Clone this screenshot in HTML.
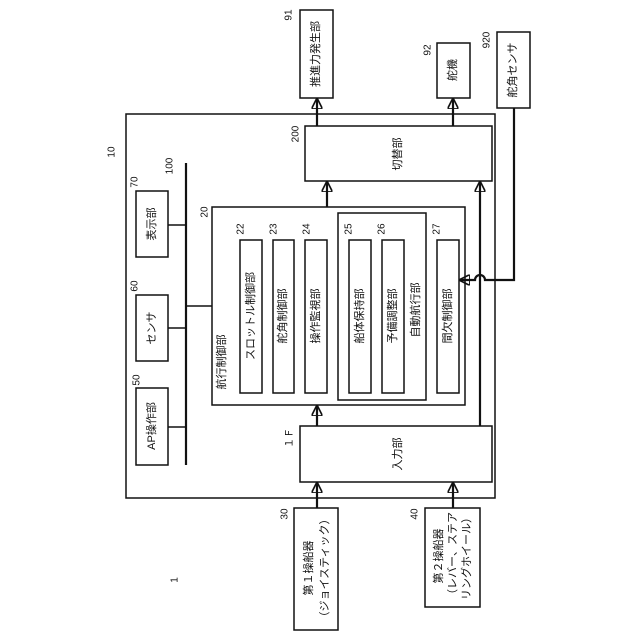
<!DOCTYPE html>
<html><head><meta charset="utf-8"><style>
html,body{margin:0;padding:0;background:#fff}
svg{display:block}
text{font-family:"Liberation Sans","Noto Sans CJK JP",sans-serif;fill:#111}
.t{font-size:11px;text-anchor:middle;dominant-baseline:central}
.n{font-size:10px;text-anchor:middle;dominant-baseline:central}
rect{fill:none;stroke:#111;stroke-width:1.5}
line,path{stroke:#111;stroke-width:1.5;fill:none}
.b{stroke-width:2.2}
</style></head><body>
<svg width="640" height="640" viewBox="0 0 640 640">
<defs><marker id="a" viewBox="0 0 10 10" refX="9" refY="5" markerWidth="5" markerHeight="5" orient="auto"><path d="M0,0L10,5L0,10z" fill="#111" stroke="none"/></marker></defs>
<!-- outer -->
<rect x="126" y="114" width="369" height="384"/>
<!-- 200 -->
<rect x="305" y="126" width="187" height="55"/>
<text class="t" transform="translate(398,154) rotate(-90)">切替部</text>
<!-- bus -->
<line class="b" x1="186" y1="163" x2="186" y2="465"/>
<line x1="168" y1="225" x2="186" y2="225"/>
<line x1="168" y1="328" x2="186" y2="328"/>
<line x1="168" y1="427" x2="186" y2="427"/>
<line x1="186" y1="306" x2="212" y2="306"/>
<rect x="136" y="191" width="32" height="66"/>
<text class="t" transform="translate(152,224) rotate(-90)">表示部</text>
<rect x="136" y="295" width="32" height="66"/>
<text class="t" transform="translate(152,328) rotate(-90)">センサ</text>
<rect x="136" y="388" width="32" height="77"/>
<text class="t" transform="translate(152,426) rotate(-90)">AP操作部</text>
<!-- 20 -->
<rect x="212" y="207" width="253" height="198"/>
<text class="t" transform="translate(222,362) rotate(-90)">航行制御部</text>
<rect x="240" y="240" width="22" height="153"/>
<text class="t" transform="translate(251,316) rotate(-90)">スロットル制御部</text>
<rect x="273" y="240" width="21" height="153"/>
<text class="t" transform="translate(283,316) rotate(-90)">舵角制御部</text>
<rect x="305" y="240" width="22" height="153"/>
<text class="t" transform="translate(316,316) rotate(-90)">操作監視部</text>
<rect x="338" y="213" width="88" height="187"/>
<rect x="349" y="240" width="22" height="153"/>
<text class="t" transform="translate(360,316) rotate(-90)">船体保持部</text>
<rect x="382" y="240" width="22" height="153"/>
<text class="t" transform="translate(393,316) rotate(-90)">予備調整部</text>
<text class="t" transform="translate(416,310) rotate(-90)">自動航行部</text>
<rect x="437" y="240" width="22" height="153"/>
<text class="t" transform="translate(448,316) rotate(-90)">間欠制御部</text>
<!-- input -->
<rect x="300" y="426" width="192" height="56"/>
<text class="t" transform="translate(398,454) rotate(-90)">入力部</text>
<!-- arrows inside -->
<line class="b" x1="327" y1="207" x2="327" y2="182" marker-end="url(#a)"/>
<line class="b" x1="317" y1="426" x2="317" y2="406" marker-end="url(#a)"/>
<line class="b" x1="480" y1="426" x2="480" y2="182" marker-end="url(#a)"/>
<!-- top boxes -->
<rect x="300" y="10" width="33" height="88"/>
<text class="t" transform="translate(316,54) rotate(-90)">推進力発生部</text>
<rect x="437" y="43" width="33" height="55"/>
<text class="t" transform="translate(453,70) rotate(-90)">舵機</text>
<rect x="497" y="32" width="33" height="76"/>
<text class="t" transform="translate(513,70) rotate(-90)">舵角センサ</text>
<line class="b" x1="317" y1="126" x2="317" y2="99" marker-end="url(#a)"/>
<line class="b" x1="453" y1="126" x2="453" y2="99" marker-end="url(#a)"/>
<path class="b" d="M514,108 V280 H485 A5,5 0 0 0 475,280 H460" marker-end="url(#a)"/>
<!-- bottom boxes -->
<rect x="294" y="508" width="44" height="122"/>
<text class="t" transform="translate(309,568) rotate(-90)">第１操船器</text>
<text class="t" transform="translate(325,568) rotate(-90)">（ジョイスティック）</text>
<rect x="425" y="508" width="55" height="99"/>
<text class="t" transform="translate(439,556) rotate(-90)">第２操船器</text>
<text class="t" transform="translate(453,556) rotate(-90)">（レバー、ステア</text>
<text class="t" transform="translate(467,556) rotate(-90)">リングホイール）</text>
<line class="b" x1="317" y1="508" x2="317" y2="483" marker-end="url(#a)"/>
<line class="b" x1="453" y1="508" x2="453" y2="483" marker-end="url(#a)"/>
<!-- labels -->
<text class="n" transform="translate(112,152) rotate(-90)">10</text>
<text class="n" transform="translate(170,166) rotate(-90)">100</text>
<text class="n" transform="translate(135,182) rotate(-90)">70</text>
<text class="n" transform="translate(135,286) rotate(-90)">60</text>
<text class="n" transform="translate(137,380) rotate(-90)">50</text>
<text class="n" transform="translate(205,212) rotate(-90)">20</text>
<text class="n" transform="translate(241,229) rotate(-90)">22</text>
<text class="n" transform="translate(274,229) rotate(-90)">23</text>
<text class="n" transform="translate(307,229) rotate(-90)">24</text>
<text class="n" transform="translate(349,229) rotate(-90)">25</text>
<text class="n" transform="translate(382,229) rotate(-90)">26</text>
<text class="n" transform="translate(437,229) rotate(-90)">27</text>
<text class="n" transform="translate(296,134) rotate(-90)">200</text>
<text class="n" transform="translate(290,438) rotate(-90)">１Ｆ</text>
<text class="n" transform="translate(289,15) rotate(-90)">91</text>
<text class="n" transform="translate(428,50) rotate(-90)">92</text>
<text class="n" transform="translate(487,40) rotate(-90)">920</text>
<text class="n" transform="translate(285,514) rotate(-90)">30</text>
<text class="n" transform="translate(415,514) rotate(-90)">40</text>
<text class="n" transform="translate(175,580) rotate(-90)">1</text>
</svg>
</body></html>
